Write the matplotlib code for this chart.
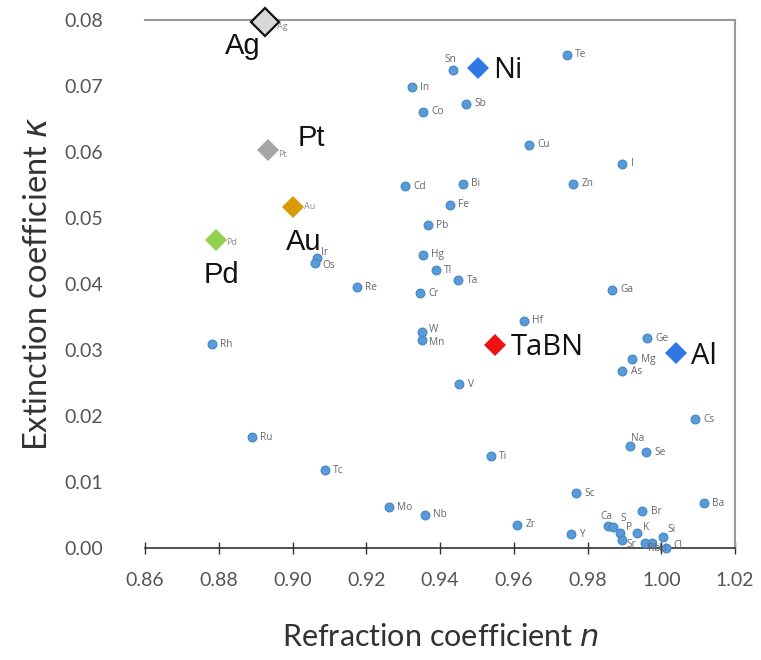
import matplotlib
matplotlib.use("Agg")
import matplotlib.pyplot as plt

# Elemental metals/semimetals: refraction coefficient n and extinction coefficient kappa
elements = ["Sn", "Te", "In", "Co", "Sb", "Cu", "I", "Cd", "Bi", "Zn", "Fe", "Pb",
            "Hg", "Tl", "Ta", "Cr", "Ga", "Ir", "Os", "Re", "Rh", "Hf", "W", "Mn",
            "V", "Ge", "Mg", "As", "Cs", "Na", "Se", "Ru", "Tc", "Mo", "Nb", "Ti",
            "Sc", "Zr", "Y", "Ba", "Br", "Ca", "S", "P", "Sr", "K", "Rb", "Li",
            "Si", "Cl"]
n_vals = [0.9435, 0.9744, 0.9324, 0.9354, 0.9470, 0.9641, 0.9894, 0.9305, 0.9462,
          0.9761, 0.9427, 0.9367, 0.9354, 0.9389, 0.9449, 0.9346, 0.9866, 0.9066,
          0.9061, 0.9175, 0.8782, 0.9628, 0.9351, 0.9351, 0.9452, 0.9961, 0.9921,
          0.9894, 1.0092, 0.9915, 0.9959, 0.8890, 0.9088, 0.9262, 0.9359, 0.9538,
          0.9769, 0.9609, 0.9755, 1.0116, 0.9948, 0.9856, 0.9869, 0.9888, 0.9894,
          0.9934, 0.9956, 0.9975, 1.0005, 1.0013]
k_vals = [0.0724, 0.0747, 0.0698, 0.0661, 0.0673, 0.0611, 0.0582, 0.0548, 0.0552,
          0.0552, 0.0520, 0.0489, 0.0444, 0.0421, 0.0406, 0.0386, 0.0391, 0.0439,
          0.0432, 0.0395, 0.0309, 0.0344, 0.0327, 0.0315, 0.0248, 0.0318, 0.0286,
          0.0268, 0.0195, 0.0155, 0.0145, 0.0168, 0.0118, 0.0062, 0.0050, 0.0139,
          0.0083, 0.0035, 0.0021, 0.0068, 0.0056, 0.0033, 0.0032, 0.0023, 0.0012,
          0.0023, 0.0008, 0.0008, 0.0017, 0.0000]

# Highlighted materials
hl_names = ["Ag", "Pt", "Au", "Pd", "Ni", "TaBN", "Al"]
hl_n = [0.8925, 0.8934, 0.9001, 0.8793, 0.9503, 0.9549, 1.0040]
hl_k = [0.0797, 0.0603, 0.0517, 0.0467, 0.0727, 0.0308, 0.0295]

x_ticks = [0.86, 0.88, 0.90, 0.92, 0.94, 0.96, 0.98, 1.00, 1.02]
y_ticks = [0.00, 0.01, 0.02, 0.03, 0.04, 0.05, 0.06, 0.07, 0.08]

# ---- styling ----
hl_style = {
    "Ag":   dict(fc="#d9d9d9", ec="#111111", ms=14, mew=1.6),
    "Pt":   dict(fc="#a6a6a6", ec="#a6a6a6", ms=11, mew=0),
    "Au":   dict(fc="#d99a06", ec="#d99a06", ms=11, mew=0),
    "Pd":   dict(fc="#92d050", ec="#92d050", ms=11, mew=0),
    "Ni":   dict(fc="#2f78e4", ec="#2f78e4", ms=11, mew=0),
    "TaBN": dict(fc="#ee1111", ec="#ee1111", ms=11, mew=0),
    "Al":   dict(fc="#2f78e4", ec="#2f78e4", ms=11, mew=0),
}
# big caption placement (offset in points, ha, va, font)
big_label = {
    "Ag":   ((-16, -17), "center", "center", "Liberation Sans"),
    "Pt":   ((21, 9), "left", "center", "Liberation Sans"),
    "Au":   ((-5, -25), "left", "center", "Liberation Sans"),
    "Pd":   ((-9, -25), "left", "center", "Liberation Sans"),
    "Ni":   ((11, -2), "left", "center", "Open Sans"),
    "TaBN": ((11, -2), "left", "center", "Open Sans"),
    "Al":   ((11, -2), "left", "center", "Open Sans"),
}
small_hl_label = {"Ag": (9, -3), "Pt": (7, -3), "Au": (8, 0), "Pd": (7, -2)}

label_offsets = {
    "Sn": ((-2, 8), "center"), "Ca": ((-1, 7), "center"), "S": ((5, 6), "left"),
    "P": ((4, 4), "left"), "K": ((4, 4), "left"), "Si": ((3, 5), "left"),
    "Sr": ((3, -3), "left"), "Rb": ((2, -4), "left"), "Li": ((5, -4), "left"),
    "Cl": ((5, 2), "left"), "Na": ((1, 5), "left"), "Ir": ((3, 4), "left"),
    "Os": ((5, -2), "left"), "W": ((5, 2), "left"), "Mn": ((5, -2), "left"),
}

fig = plt.figure(figsize=(7.61, 6.60), dpi=100)
ax = fig.add_axes([0.1905, 0.1697, 0.7755, 0.80])

ax.scatter(n_vals, k_vals, s=40, color="#5b9bd5", edgecolors="#3f86c8",
           linewidths=0.8, zorder=3, clip_on=False)
for name, x, y in zip(elements, n_vals, k_vals):
    (dx, dy), ha = label_offsets.get(name, ((6, 0), "left"))
    ax.annotate(name, (x, y), xytext=(dx, dy), textcoords="offset points",
                ha=ha, va="center", fontsize=7.3, color="#666666",
                family="Open Sans", zorder=4)

for name, x, y in zip(hl_names, hl_n, hl_k):
    st = hl_style[name]
    ax.plot([x], [y], marker="D", linestyle="none", markerfacecolor=st["fc"],
            markeredgecolor=st["ec"], markersize=st["ms"],
            markeredgewidth=st["mew"], zorder=5, clip_on=False)
    if name in small_hl_label:
        ax.annotate(name, (x, y), xytext=small_hl_label[name],
                    textcoords="offset points", ha="left", va="center",
                    fontsize=6.5, color="#8a8a8a", family="Open Sans", zorder=4)
    (dx, dy), ha, va, fam = big_label[name]
    ax.annotate(name, (x, y), xytext=(dx, dy), textcoords="offset points",
                ha=ha, va=va, fontsize=21, color="#111111", family=fam, zorder=6)

ax.set_xlim(0.86, 1.02)
ax.set_ylim(0.0, 0.08)
ax.set_xticks(x_ticks)
ax.set_xticklabels([f"{v:.2f}" for v in x_ticks])
ax.set_yticks(y_ticks)
ax.set_yticklabels([f"{v:.2f}" for v in y_ticks])

for side in ("top", "right"):
    ax.spines[side].set_color("#9a9a9a")
    ax.spines[side].set_linewidth(1.5)
ax.spines["left"].set_visible(False)
ax.spines["bottom"].set_color("#333333")
ax.spines["bottom"].set_linewidth(1.2)

ax.tick_params(axis="x", direction="inout", length=8, width=1.0, color="#333333",
               labelsize=14, labelcolor="#555555", pad=13)
ax.tick_params(axis="y", length=0, labelsize=14, labelcolor="#555555", pad=30)
for lab in ax.get_xticklabels() + ax.get_yticklabels():
    lab.set_family("Lato")

ax.set_xlabel(r"Refraction coefficient $\it{n}$", fontsize=22, color="#333333",
              family="Lato", labelpad=25)
ax.set_ylabel(r"Extinction coefficient $\it{\kappa}$", fontsize=23.5, color="#333333",
              family="Lato", labelpad=8)

fig.savefig("out.png", dpi=100, facecolor="white")
